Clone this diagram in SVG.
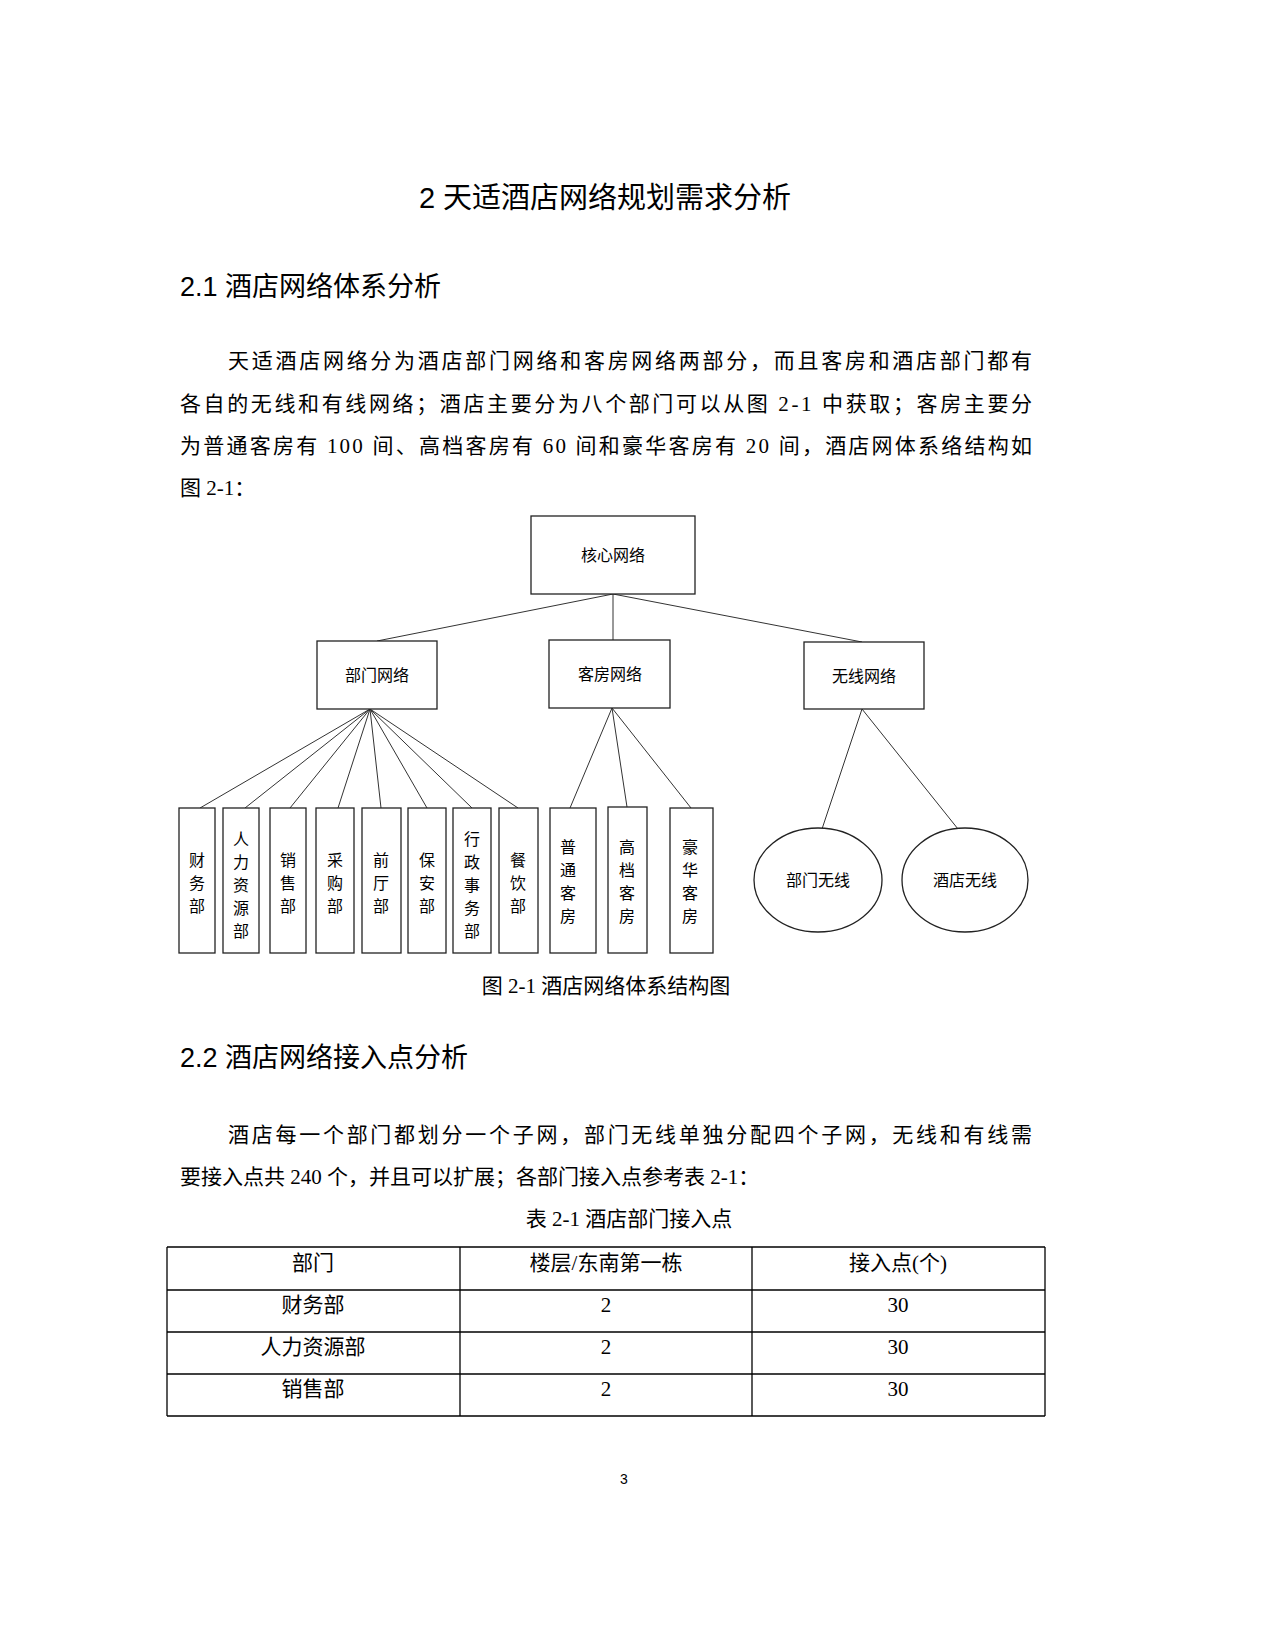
<svg xmlns="http://www.w3.org/2000/svg" width="1275" height="1650" viewBox="0 0 1275 1650">
<style>
.s{font-family:"Liberation Serif","Noto Sans CJK SC",serif;font-size:21px;fill:#000}
.h{font-family:"Liberation Sans","Noto Sans CJK SC",sans-serif;fill:#000}
.n{font-family:"Noto Sans CJK SC",sans-serif;font-size:16px;fill:#000;text-anchor:middle}
.b{fill:#fff;stroke:#222;stroke-width:1.3}
.c line{stroke:#333;stroke-width:1}
.t line{stroke:#000;stroke-width:1.3}
.m{text-anchor:middle}
</style>
<rect width="1275" height="1650" fill="#fff"/>
<text class="h" x="605" y="208" font-size="29" text-anchor="middle">2 天适酒店网络规划需求分析</text>
<text class="h" x="180" y="296" font-size="27">2.1 酒店网络体系分析</text>
<text class="s" x="228" y="368" textLength="804" lengthAdjust="spacing">天适酒店网络分为酒店部门网络和客房网络两部分，而且客房和酒店部门都有</text>
<text class="s" x="180" y="411" textLength="852" lengthAdjust="spacing">各自的无线和有线网络；酒店主要分为八个部门可以从图 2-1 中获取；客房主要分</text>
<text class="s" x="180" y="453" textLength="852" lengthAdjust="spacing">为普通客房有 100 间、高档客房有 60 间和豪华客房有 20 间，酒店网体系络结构如</text>
<text class="s" x="180" y="495">图 2-1：</text>

<g class="c" id="connectors">
<line x1="613" y1="594" x2="377" y2="641"/>
<line x1="613" y1="594" x2="613" y2="640"/>
<line x1="613" y1="594" x2="862" y2="642"/>
<line x1="370" y1="709" x2="200" y2="808"/>
<line x1="370" y1="709" x2="245" y2="808"/>
<line x1="370" y1="709" x2="290" y2="808"/>
<line x1="370" y1="709" x2="338" y2="808"/>
<line x1="370" y1="709" x2="381" y2="808"/>
<line x1="370" y1="709" x2="427" y2="808"/>
<line x1="370" y1="709" x2="472" y2="808"/>
<line x1="370" y1="709" x2="518" y2="808"/>
<line x1="612" y1="708" x2="570" y2="808"/>
<line x1="612" y1="708" x2="627" y2="807"/>
<line x1="612" y1="708" x2="691" y2="808"/>
<line x1="862" y1="709" x2="822" y2="829"/>
<line x1="862" y1="709" x2="958" y2="829"/>
</g>

<g id="core"><rect class="b" x="531" y="516" width="164" height="78"/><text class="n" x="613" y="561">核心网络</text></g>
<g id="dept"><rect class="b" x="317" y="641" width="120" height="68"/><text class="n" x="377" y="681">部门网络</text></g>
<g id="room"><rect class="b" x="549" y="640" width="121" height="68"/><text class="n" x="610" y="680">客房网络</text></g>
<g id="wifi"><rect class="b" x="804" y="642" width="120" height="67"/><text class="n" x="864" y="682">无线网络</text></g>

<g id="d1"><rect class="b" x="179" y="808" width="36" height="145"/><text class="n" x="197"><tspan x="197" y="866">财</tspan><tspan x="197" y="889">务</tspan><tspan x="197" y="912">部</tspan></text></g>
<g id="d2"><rect class="b" x="223" y="808" width="36" height="145"/><text class="n" x="241"><tspan x="241" y="845">人</tspan><tspan x="241" y="868">力</tspan><tspan x="241" y="891">资</tspan><tspan x="241" y="914">源</tspan><tspan x="241" y="937">部</tspan></text></g>
<g id="d3"><rect class="b" x="270" y="808" width="36" height="145"/><text class="n" x="288"><tspan x="288" y="866">销</tspan><tspan x="288" y="889">售</tspan><tspan x="288" y="912">部</tspan></text></g>
<g id="d4"><rect class="b" x="316" y="808" width="38" height="145"/><text class="n" x="335"><tspan x="335" y="866">采</tspan><tspan x="335" y="889">购</tspan><tspan x="335" y="912">部</tspan></text></g>
<g id="d5"><rect class="b" x="362" y="808" width="39" height="145"/><text class="n" x="381"><tspan x="381" y="866">前</tspan><tspan x="381" y="889">厅</tspan><tspan x="381" y="912">部</tspan></text></g>
<g id="d6"><rect class="b" x="408" y="808" width="38" height="145"/><text class="n" x="427"><tspan x="427" y="866">保</tspan><tspan x="427" y="889">安</tspan><tspan x="427" y="912">部</tspan></text></g>
<g id="d7"><rect class="b" x="453" y="808" width="38" height="145"/><text class="n" x="472"><tspan x="472" y="845">行</tspan><tspan x="472" y="868">政</tspan><tspan x="472" y="891">事</tspan><tspan x="472" y="914">务</tspan><tspan x="472" y="937">部</tspan></text></g>
<g id="d8"><rect class="b" x="499" y="808" width="39" height="145"/><text class="n" x="518"><tspan x="518" y="866">餐</tspan><tspan x="518" y="889">饮</tspan><tspan x="518" y="912">部</tspan></text></g>

<g id="r1"><rect class="b" x="550" y="808" width="46" height="145"/><text class="n"><tspan x="568" y="853">普</tspan><tspan x="568" y="876">通</tspan><tspan x="568" y="899">客</tspan><tspan x="568" y="922">房</tspan></text></g>
<g id="r2"><rect class="b" x="608" y="807" width="39" height="146"/><text class="n"><tspan x="627" y="853">高</tspan><tspan x="627" y="876">档</tspan><tspan x="627" y="899">客</tspan><tspan x="627" y="922">房</tspan></text></g>
<g id="r3"><rect class="b" x="670" y="808" width="43" height="145"/><text class="n"><tspan x="690" y="853">豪</tspan><tspan x="690" y="876">华</tspan><tspan x="690" y="899">客</tspan><tspan x="690" y="922">房</tspan></text></g>

<g id="w1"><ellipse class="b" cx="818" cy="880" rx="64" ry="52"/><text class="n" x="818" y="886">部门无线</text></g>
<g id="w2"><ellipse class="b" cx="965" cy="880" rx="63" ry="52"/><text class="n" x="965" y="886">酒店无线</text></g>

<text class="s m" x="606" y="993">图 2-1 酒店网络体系结构图</text>
<text class="h" x="180" y="1067" font-size="27">2.2 酒店网络接入点分析</text>
<text class="s" x="228" y="1142" textLength="804" lengthAdjust="spacing">酒店每一个部门都划分一个子网，部门无线单独分配四个子网，无线和有线需</text>
<text class="s" x="180" y="1184">要接入点共 240 个，并且可以扩展；各部门接入点参考表 2-1：</text>
<text class="s m" x="629" y="1226">表 2-1 酒店部门接入点</text>

<g class="t" id="table">
<line x1="167" y1="1247" x2="1045" y2="1247"/>
<line x1="167" y1="1290" x2="1045" y2="1290"/>
<line x1="167" y1="1332" x2="1045" y2="1332"/>
<line x1="167" y1="1374" x2="1045" y2="1374"/>
<line x1="167" y1="1416" x2="1045" y2="1416"/>
<line x1="167" y1="1247" x2="167" y2="1416"/>
<line x1="460" y1="1247" x2="460" y2="1416"/>
<line x1="752" y1="1247" x2="752" y2="1416"/>
<line x1="1045" y1="1247" x2="1045" y2="1416"/>
</g>
<g class="s m">
<text x="313" y="1270">部门</text><text x="606" y="1270">楼层/东南第一栋</text><text x="898" y="1270">接入点(个)</text>
<text x="313" y="1312">财务部</text><text x="606" y="1312">2</text><text x="898" y="1312">30</text>
<text x="313" y="1354">人力资源部</text><text x="606" y="1354">2</text><text x="898" y="1354">30</text>
<text x="313" y="1396">销售部</text><text x="606" y="1396">2</text><text x="898" y="1396">30</text>
</g>
<text class="h" x="624" y="1484" font-size="14" text-anchor="middle">3</text>
</svg>
